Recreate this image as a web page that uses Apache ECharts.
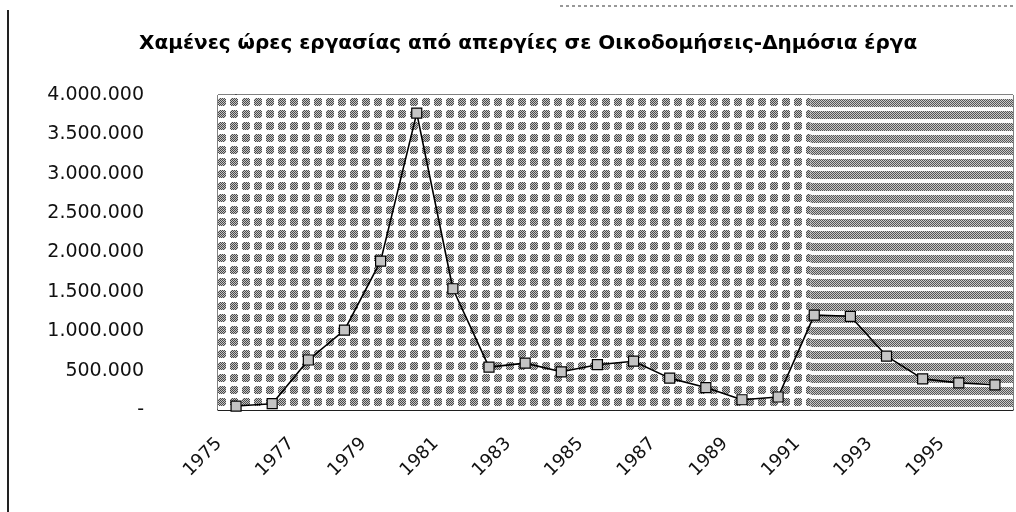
<!DOCTYPE html>
<html>
<head>
<meta charset="utf-8">
<script src="https://cdn.jsdelivr.net/npm/echarts@6/dist/echarts.min.js"></script>
<style>
  html, body { margin: 0; padding: 0; background: #fff; }
  #chart { width: 1016px; height: 512px; }
</style>
</head>
<body>
<div id="chart"></div>
<script>
const titleText = "Χαμένες ώρες εργασίας από απεργίες σε Οικοδομήσεις-Δημόσια έργα";

const years = ["1975", "1976", "1977", "1978", "1979", "1980", "1981", "1982",
  "1983", "1984", "1985", "1986", "1987", "1988", "1989", "1990", "1991",
  "1992", "1993", "1994", "1995", "1996"];

const lostHours = [50000, 80000, 635000, 1015000, 1890000, 3770000, 1540000, 545000,
  595000, 485000, 575000, 620000, 405000, 285000, 130000, 165000, 1205000,
  1190000, 685000, 395000, 345000, 320000];

const yTicks = { min: 0, max: 4000000, step: 500000 };

// halftone-ish fills seen in the scanned plot area
function dotTile() {
  const c = document.createElement("canvas");
  c.width = 12; c.height = 12;
  const g = c.getContext("2d");
  g.fillStyle = "#fff";
  g.fillRect(0, 0, 12, 12);
  for (let y = 0; y < 12; y++) {
    for (let x = 0; x < 12; x++) {
      const d = Math.hypot(x + 0.5 - 6, y + 0.5 - 6);
      if (d < 4.4) {
        g.fillStyle = (x + y) % 2 ? "#c4c4c4" : "#4a4a4a";
        g.fillRect(x, y, 1, 1);
      }
    }
  }
  return c;
}

function stripeTile() {
  const c = document.createElement("canvas");
  c.width = 12; c.height = 12;
  const g = c.getContext("2d");
  g.fillStyle = "#fafafa";
  g.fillRect(0, 0, 12, 12);
  for (let y = 3; y < 11; y++) {
    for (let x = 0; x < 12; x++) {
      g.fillStyle = (x + y) % 2 ? "#c8c8c8" : "#555";
      g.fillRect(x, y, 1, 1);
    }
  }
  return c;
}

function fmtThousands(v) {
  if (v === 0) return "-";
  return String(v).replace(/\B(?=(\d{3})+(?!\d))/g, ".");
}

const chart = echarts.init(document.getElementById("chart"));
const stripeFrom = years.indexOf("1991") - 0.1;
const axisFont = { fontFamily: "DejaVu Sans", fontSize: 18, color: "#111" };

chart.setOption({
  animation: false,
  backgroundColor: "#fff",
  title: {
    text: titleText,
    left: 134,
    top: 29,
    textStyle: { fontFamily: "DejaVu Sans", fontSize: 20, fontWeight: "bold", color: "#000" }
  },
  grid: {
    left: 218, right: 3, top: 95, bottom: 102,
    show: true, borderColor: "#000", borderWidth: 1, backgroundColor: "transparent"
  },
  xAxis: [{
    type: "category",
    data: years,
    boundaryGap: true,
    axisLine: { lineStyle: { color: "#000", width: 1.5 } },
    axisTick: { interval: 0, length: 6, lineStyle: { color: "#000" } },
    axisLabel: Object.assign({ interval: 1, rotate: 45, margin: 14, padding: [0, 24, 0, 0] }, axisFont)
  }, {
    type: "value",
    min: -0.5,
    max: years.length - 0.5,
    show: false
  }],
  yAxis: {
    type: "value",
    min: yTicks.min,
    max: yTicks.max,
    interval: yTicks.step,
    splitLine: { show: false },
    axisLine: { show: true, lineStyle: { color: "#000", width: 1.5 } },
    axisTick: { show: true, length: 5, lineStyle: { color: "#000" } },
    axisLabel: Object.assign({ margin: 74, formatter: fmtThousands }, axisFont, { fontSize: 19 })
  },
  series: [{
    type: "line",
    xAxisIndex: 1,
    data: [],
    silent: true,
    markArea: {
      silent: true,
      label: { show: false },
      data: [
        [{ xAxis: -0.5, itemStyle: { color: { image: dotTile(), repeat: "repeat" }, opacity: 1 } },
         { xAxis: stripeFrom }],
        [{ xAxis: stripeFrom, itemStyle: { color: { image: stripeTile(), repeat: "repeat" }, opacity: 1 } },
         { xAxis: years.length - 0.5 }]
      ]
    }
  }, {
    type: "line",
    data: lostHours,
    z: 5,
    symbol: "rect",
    symbolSize: 10,
    showAllSymbol: true,
    lineStyle: { color: "#000", width: 1.6 },
    itemStyle: { color: "#c4c4c4", borderColor: "#000", borderWidth: 1.2 }
  }],
  graphic: [
    { type: "line", shape: { x1: 8, y1: 10, x2: 8, y2: 512 }, style: { stroke: "#222", lineWidth: 2 } },
    { type: "line", shape: { x1: 560, y1: 6, x2: 1016, y2: 6 }, style: { stroke: "#777", lineWidth: 1.5, lineDash: [3, 3] } }
  ]
});
</script>
</body>
</html>
